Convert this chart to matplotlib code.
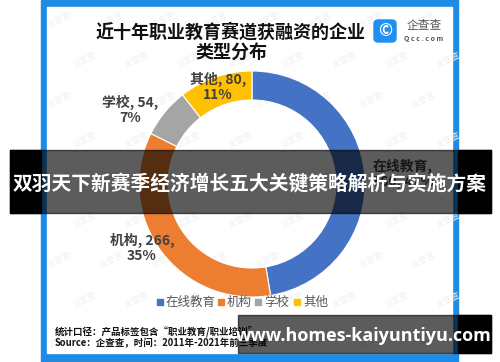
import matplotlib.pyplot as plt
from matplotlib.patches import Rectangle, FancyBboxPatch

plt.rcParams['font.family'] = ['Noto Sans CJK SC', 'DejaVu Sans']

# data
categories = ['在线教育', '机构', '学校', '其他']
counts = [360, 266, 54, 80]
percents = ['47%', '35%', '7%', '11%']
colors = ['#4472C4', '#ED7D31', '#A5A5A5', '#FFC000']

title = '近十年职业教育赛道获融资的企业\n类型分布'
note1 = '统计口径：产品标签包含“职业教育/职业培训”'
note2 = 'Source：企查查，时间：2011年-2021年前三季度'
banner = '双羽天下新赛季经济增长五大关键策略解析与实施方案'
site = 'www.homes-kaiyuntiyu.com'

W, H = 500, 362
fig = plt.figure(figsize=(W / 100, H / 100), dpi=100)
ax = fig.add_axes([0, 0, 1, 1])


def Y(y):
    # pixel row (from top) -> data y
    return H - y


# blue frame
ax.add_patch(Rectangle((41, Y(362)), 417, 362, color='#1c8ce6', zorder=0))
ax.add_patch(Rectangle((47, Y(353)), 405, 346, color='white', zorder=0))

# faint tiled watermark
for row, yy in enumerate(range(20, 360, 40)):
    off = 25 if row % 2 else 0
    for xx in range(60 + off, 450, 52):
        ax.text(xx, Y(yy), '企查查', fontsize=6, color='#f0f0f0', rotation=25,
                ha='center', va='center', zorder=0.5)

# donut
cx, cy, r = 252, 184, 113
wedges, _ = ax.pie(counts, colors=colors, startangle=90, counterclock=False,
                   center=(cx, Y(cy)), radius=r, frame=True,
                   wedgeprops=dict(width=29, edgecolor='white', linewidth=0.8))
for w in wedges:
    w.set_zorder(1)

# data labels
label_pos = [(403, 174), (142, 248), (130, 110), (218, 87)]
for cat, n, p, (lx, ly) in zip(categories, counts, percents, label_pos):
    if cat == '在线教育':
        txt = f'{cat},\n{n}, {p}'
    else:
        txt = f'{cat}, {n},\n{p}'
    ax.text(lx, Y(ly), txt, ha='center', va='center', fontsize=10,
            color='#404040', fontweight='bold', linespacing=1.05, zorder=2)

# title
ax.text(231, Y(42), title, ha='center', va='center', fontsize=13,
        fontweight='bold', color='#111111', linespacing=1.1, zorder=2)

# logo
ax.add_patch(FancyBboxPatch((374, Y(42)), 22, 22,
                            boxstyle='round,pad=0,rounding_size=4',
                            color='#1e90f0', zorder=2))
ax.text(385, Y(31), '©', ha='center', va='center', fontsize=12,
        color='white', fontweight='bold', zorder=3)
ax.text(424, Y(26), '企查查', ha='center', va='center', fontsize=8.5,
        color='#555555', zorder=2)
ax.text(424, Y(38.5), 'Q c c . c o m', ha='center', va='center', fontsize=5,
        color='#555555', fontweight='bold', zorder=2)

# legend
leg_x = [160, 221, 258, 297]
for cat, c, lx in zip(categories, colors, leg_x):
    ax.add_patch(Rectangle((lx - 3, Y(305)), 6, 6, color=c, zorder=2))
    ax.text(lx + 6, Y(302), cat, ha='left', va='center', fontsize=9,
            color='#595959', zorder=2)

# footnote
ax.text(55, Y(331), note1, ha='left', va='center', fontsize=6.8,
        fontweight='bold', color='#111111', zorder=2)
ax.text(55, Y(343), note2, ha='left', va='center', fontsize=6.8,
        fontweight='bold', color='#111111', zorder=2)

# overlay banner
ax.add_patch(Rectangle((10, Y(213)), 481, 63, color='black', alpha=0.64, zorder=5))
ax.add_patch(Rectangle((10, Y(213)), 31, 63, color='black', zorder=5))
ax.add_patch(Rectangle((458, Y(213)), 33, 63, color='black', zorder=5))
ax.text(250, Y(184), banner, ha='center', va='center', fontsize=14.2,
        fontweight='bold', color='white', zorder=6)

# site box
ax.add_patch(Rectangle((238, Y(353)), 253, 38, color='black', alpha=0.64, zorder=5))
ax.add_patch(Rectangle((458, Y(353)), 33, 38, color='black', zorder=5))
ax.text(364, Y(336), site, ha='center', va='center', fontsize=13,
        fontweight='bold', color='white', family=['Open Sans', 'DejaVu Sans'],
        zorder=6)

ax.set_xlim(0, W)
ax.set_ylim(0, H)
ax.set_aspect('auto')
ax.axis('off')

fig.savefig('out.png', dpi=100)
